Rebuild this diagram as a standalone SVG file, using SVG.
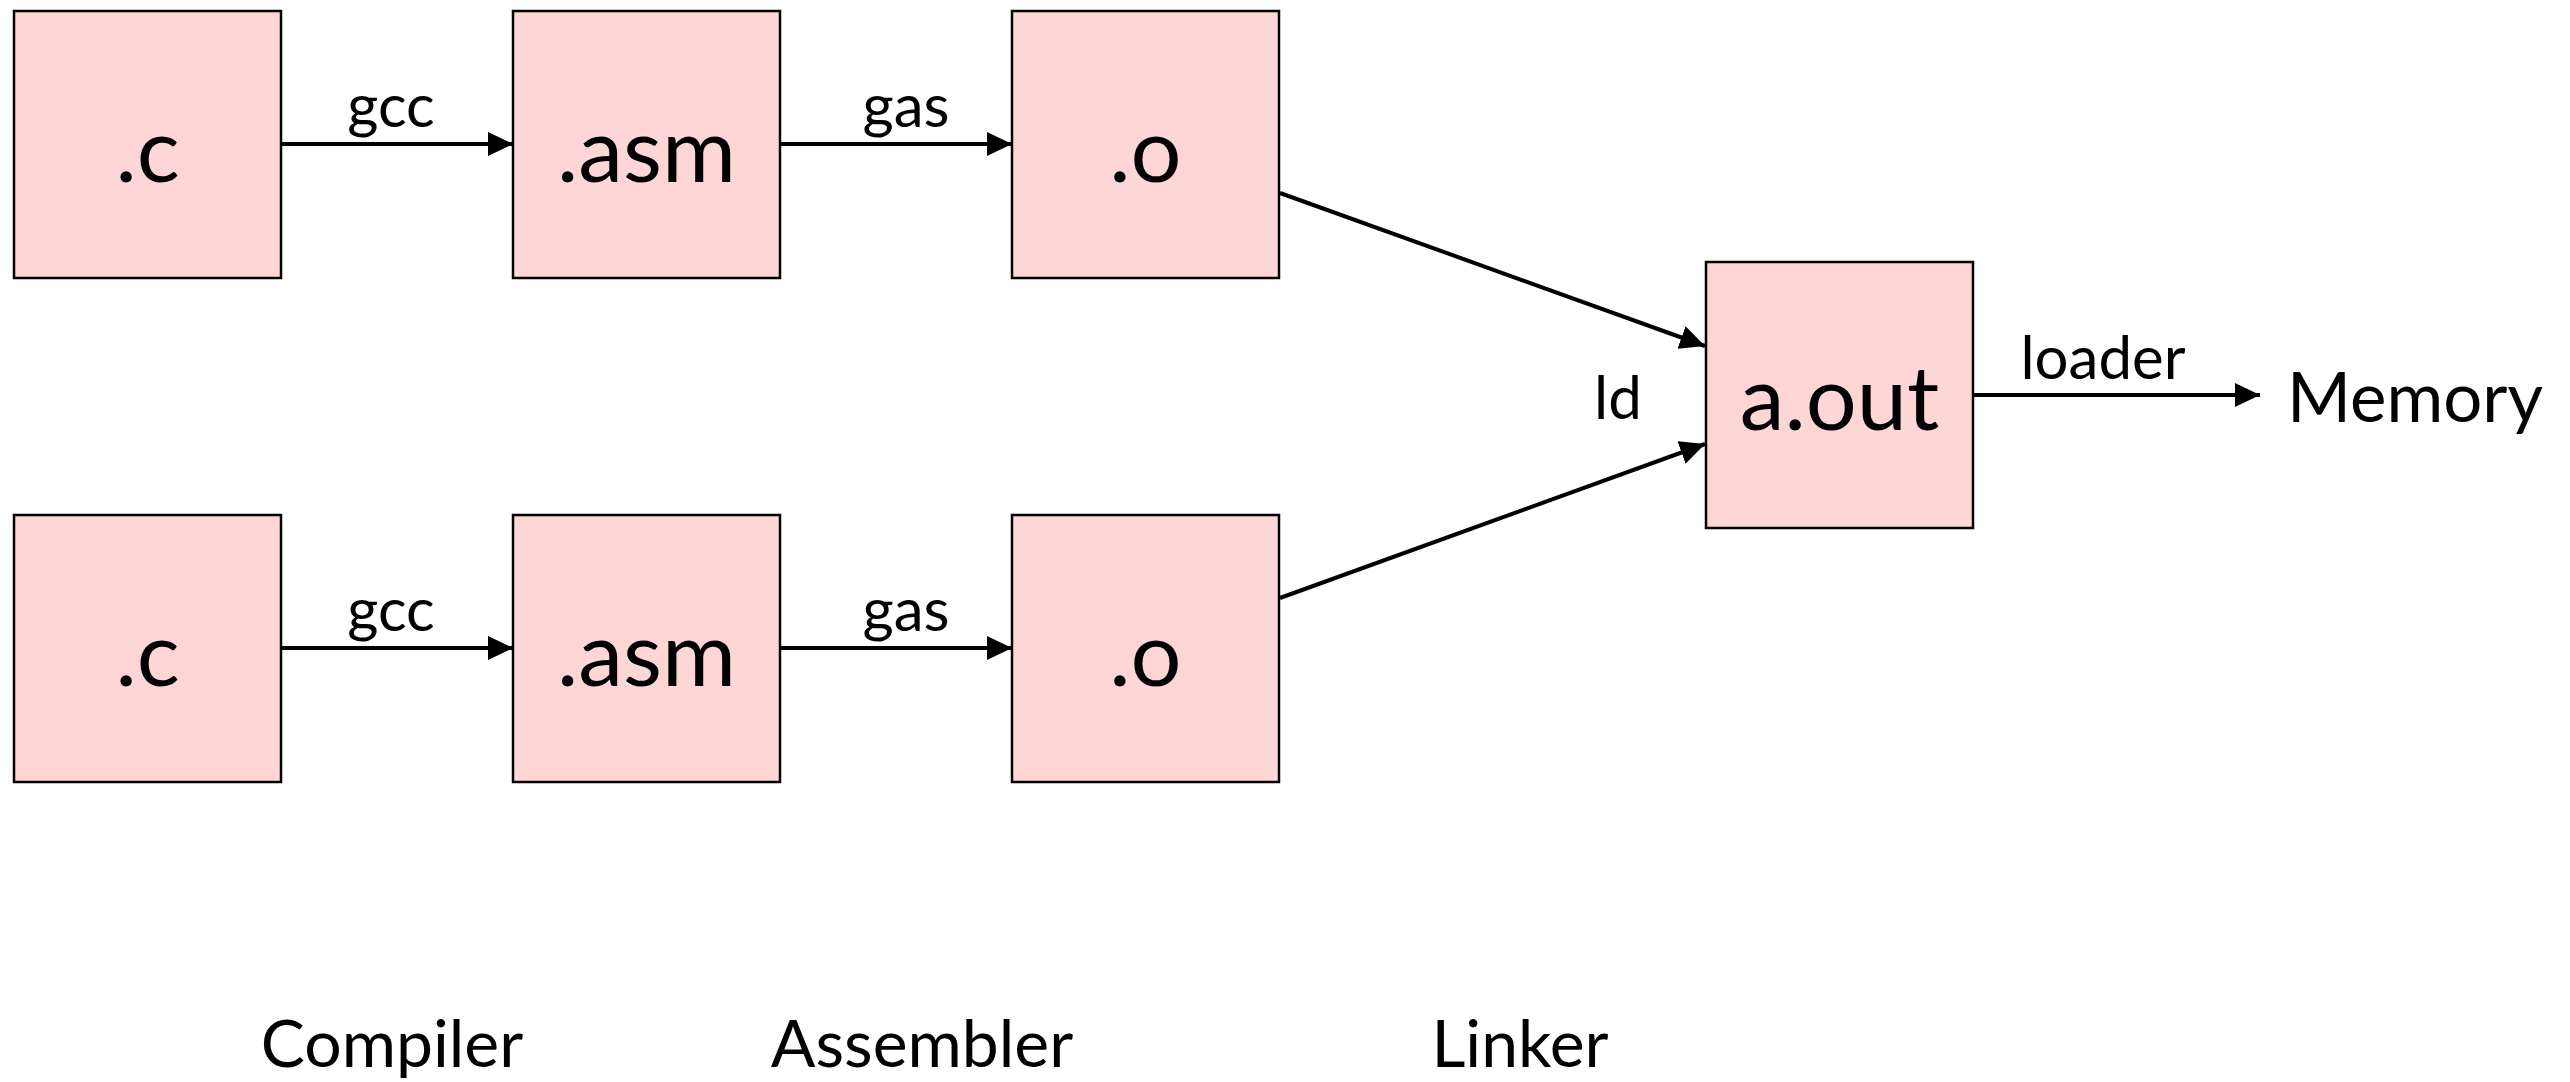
<svg xmlns="http://www.w3.org/2000/svg" width="2570" height="1082" viewBox="0 0 2570 1082">
<style>
.box{fill:#ffd6d6;stroke:#000;stroke-width:2.5}
.big{font-family:Lato,"Liberation Sans",sans-serif;font-size:90px;text-anchor:middle;fill:#000}
.lbl{font-family:Lato,"Liberation Sans",sans-serif;font-size:60px;text-anchor:middle;fill:#000}
.cap{font-family:Lato,"Liberation Sans",sans-serif;font-size:66px;text-anchor:middle;fill:#000}
.mem{font-family:Lato,"Liberation Sans",sans-serif;font-size:69px;fill:#000}
.edge{stroke:#000;stroke-width:4;fill:none;marker-end:url(#ah)}
</style>
<defs>
<marker id="ah" markerUnits="userSpaceOnUse" markerWidth="26" markerHeight="24" refX="25" refY="12" orient="auto">
<path d="M0,0 L25,12 L0,24 Z" fill="#000"/>
</marker>
</defs>
<rect width="2570" height="1082" fill="#fff"/>
<g id="connectors">
<line class="edge" x1="281" y1="144" x2="513" y2="144"/>
<line class="edge" x1="780" y1="144" x2="1012" y2="144"/>
<line class="edge" x1="281" y1="648" x2="513" y2="648"/>
<line class="edge" x1="780" y1="648" x2="1012" y2="648"/>
<line class="edge" x1="1280" y1="193" x2="1705" y2="346"/>
<line class="edge" x1="1280" y1="598" x2="1705" y2="444"/>
<line class="edge" x1="1973" y1="395" x2="2260" y2="395"/>
<text class="lbl" x="391" y="127">gcc</text>
<text class="lbl" x="906" y="127">gas</text>
<text class="lbl" x="391" y="631">gcc</text>
<text class="lbl" x="906" y="631">gas</text>
<text class="lbl" x="1618" y="419">ld</text>
<text class="lbl" x="2103" y="379">loader</text>
</g>
<g id="c1"><rect class="box" x="14" y="11" width="267" height="267"/><text class="big" x="147.5" y="182">.c</text></g>
<g id="asm1"><rect class="box" x="513" y="11" width="267" height="267"/><text class="big" x="646.5" y="182">.asm</text></g>
<g id="o1"><rect class="box" x="1012" y="11" width="267" height="267"/><text class="big" x="1145.5" y="182">.o</text></g>
<g id="c2"><rect class="box" x="14" y="515" width="267" height="267"/><text class="big" x="147.5" y="686">.c</text></g>
<g id="asm2"><rect class="box" x="513" y="515" width="267" height="267"/><text class="big" x="646.5" y="686">.asm</text></g>
<g id="o2"><rect class="box" x="1012" y="515" width="267" height="267"/><text class="big" x="1145.5" y="686">.o</text></g>
<g id="aout"><rect class="box" x="1706" y="262" width="267" height="266"/><text class="big" x="1839.5" y="430">a.out</text></g>
<g id="memory"><text class="mem" x="2287" y="422">Memory</text></g>
<g id="captions">
<text class="cap" x="392" y="1067">Compiler</text>
<text class="cap" x="922" y="1067">Assembler</text>
<text class="cap" x="1520" y="1067">Linker</text>
</g>
</svg>
